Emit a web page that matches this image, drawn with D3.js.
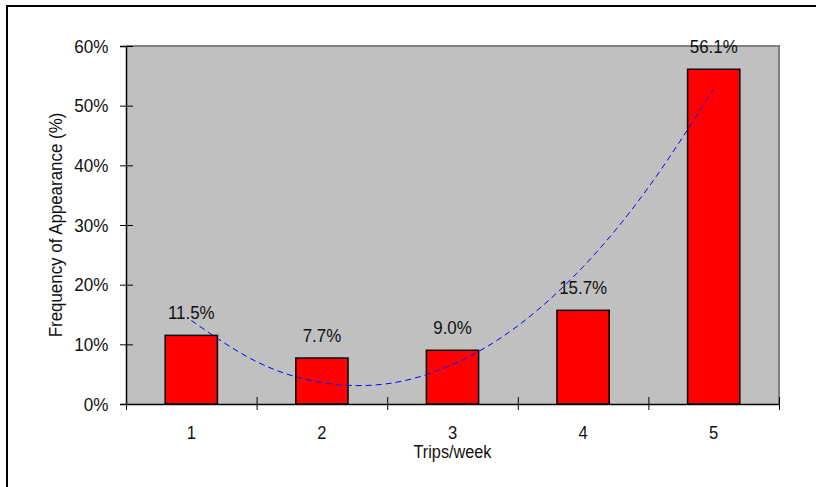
<!DOCTYPE html>
<html>
<head>
<meta charset="utf-8">
<script src="https://cdn.jsdelivr.net/npm/d3@7/dist/d3.min.js"></script>
<style>
  html, body { margin: 0; padding: 0; background: #fff; }
  svg { display: block; }
  text { font-family: "Liberation Sans", Arial, sans-serif; fill: #111; }
</style>
</head>
<body>
<svg id="chart" width="816" height="487"></svg>
<script>
// Trips per week and how often each count appears
const categories = ["1", "2", "3", "4", "5"];
const frequency = [0.115, 0.077, 0.090, 0.157, 0.561];
const valueLabels = ["11.5%", "7.7%", "9.0%", "15.7%", "56.1%"];

// Polynomial trend line, sampled at half-step positions along the category axis
const trendX = [1, 1.5, 2, 2.5, 3, 3.5, 4, 4.5, 5];
const trendY = [0.140, 0.071, 0.036, 0.034, 0.066, 0.131, 0.230, 0.363, 0.528];

const yTicks = [0, 0.1, 0.2, 0.3, 0.4, 0.5, 0.6];

const svg = d3.select("#chart");
const plot = { left: 126, top: 46, right: 779, bottom: 404 };

// Place a text at (px, py) with its glyphs condensed horizontally
function condensed(sel, px, py, sx, extra = "") {
  sel.attr("x", 0).attr("y", 0).attr("dy", null)
    .attr("transform", (d, i) => `translate(${px(d, i)},${py(d, i)})${extra} scale(${sx},1)`);
}

// Outer chart frame (only the left and top edges fall inside the view)
svg.append("path")
  .attr("d", "M7,500 L7,6 L830,6")
  .attr("fill", "none")
  .attr("stroke", "#000")
  .attr("stroke-width", 2);

const x = d3.scaleBand().domain(categories).range([plot.left, plot.right]).padding(0);
const y = d3.scaleLinear().domain([0, 0.6]).range([plot.bottom, plot.top]);
const xEdge = d3.scaleLinear().domain([0, categories.length]).range([plot.left, plot.right]);
const xNum = d3.scaleLinear().domain([1, 5])
  .range([x("1") + x.bandwidth() / 2, x("5") + x.bandwidth() / 2]);

// Plot area background
svg.append("rect")
  .attr("x", plot.left).attr("y", plot.top)
  .attr("width", plot.right - plot.left).attr("height", plot.bottom - plot.top)
  .attr("fill", "#c0c0c0");
svg.append("path")
  .attr("d", `M${plot.left},${plot.top} L${plot.right},${plot.top} L${plot.right},${plot.bottom}`)
  .attr("fill", "none").attr("stroke", "#808080").attr("stroke-width", 2);

// Bars
const barW = x.bandwidth() * 0.4;
svg.append("g").selectAll("rect").data(frequency).join("rect")
  .attr("x", (d, i) => x(categories[i]) + (x.bandwidth() - barW) / 2)
  .attr("y", d => y(d))
  .attr("width", barW)
  .attr("height", d => y(0) - y(d))
  .attr("fill", "#ff0000")
  .attr("stroke", "#000")
  .attr("stroke-width", 1.5);

// Trend line
const line = d3.line()
  .x((d, i) => xNum(trendX[i]))
  .y(d => y(d))
  .curve(d3.curveNatural);
svg.append("path")
  .datum(trendY)
  .attr("d", line)
  .attr("fill", "none")
  .attr("stroke", "#0000ff")
  .attr("stroke-width", 1)
  .attr("stroke-dasharray", "6,4");

// Value labels
svg.append("g").selectAll("text").data(frequency).join("text")
  .attr("text-anchor", "middle")
  .style("font-size", "19px")
  .text((d, i) => valueLabels[i])
  .call(condensed, (d, i) => x(categories[i]) + x.bandwidth() / 2, d => y(d) - 16, 0.89);

// Y axis
const yAxis = svg.append("g")
  .attr("transform", `translate(${plot.left},0)`)
  .call(d3.axisLeft(y).tickValues(yTicks).tickFormat(d3.format(".0%")).tickSize(6));
yAxis.select(".domain").attr("stroke", "#000").attr("stroke-width", 1.5);
yAxis.selectAll(".tick line").attr("x1", 7).attr("stroke", "#000");
yAxis.selectAll(".tick text")
  .style("font-size", "18px").style("font-family", "Liberation Sans, Arial, sans-serif").attr("fill", "#111")
  .call(condensed, () => -17.5, () => 6, 0.95);

// X axis: tick marks on category boundaries
const xTicks = svg.append("g")
  .attr("transform", `translate(0,${plot.bottom})`)
  .call(d3.axisBottom(xEdge).tickValues(d3.range(categories.length + 1)).tickFormat("").tickSize(6).tickSizeOuter(0));
xTicks.select(".domain").attr("stroke", "#000").attr("stroke-width", 1.5);
xTicks.selectAll(".tick line").attr("y1", -7).attr("stroke", "#000");

// X axis: category labels
svg.append("g").selectAll("text").data(categories).join("text")
  .attr("text-anchor", "middle")
  .style("font-size", "17.5px")
  .text(d => d)
  .call(condensed, d => x(d) + x.bandwidth() / 2, () => 438.5, 0.95);

// Axis titles
svg.append("text")
  .datum("Trips/week")
  .attr("text-anchor", "middle")
  .style("font-size", "17.5px")
  .text(d => d)
  .call(condensed, () => (plot.left + plot.right) / 2, () => 458, 0.93);

svg.append("text")
  .datum("Frequency of Appearance (%)")
  .attr("text-anchor", "middle")
  .style("font-size", "18px")
  .text(d => d)
  .call(condensed, () => 62, () => (plot.top + plot.bottom) / 2, 0.94, " rotate(-90)");
</script>
</body>
</html>
